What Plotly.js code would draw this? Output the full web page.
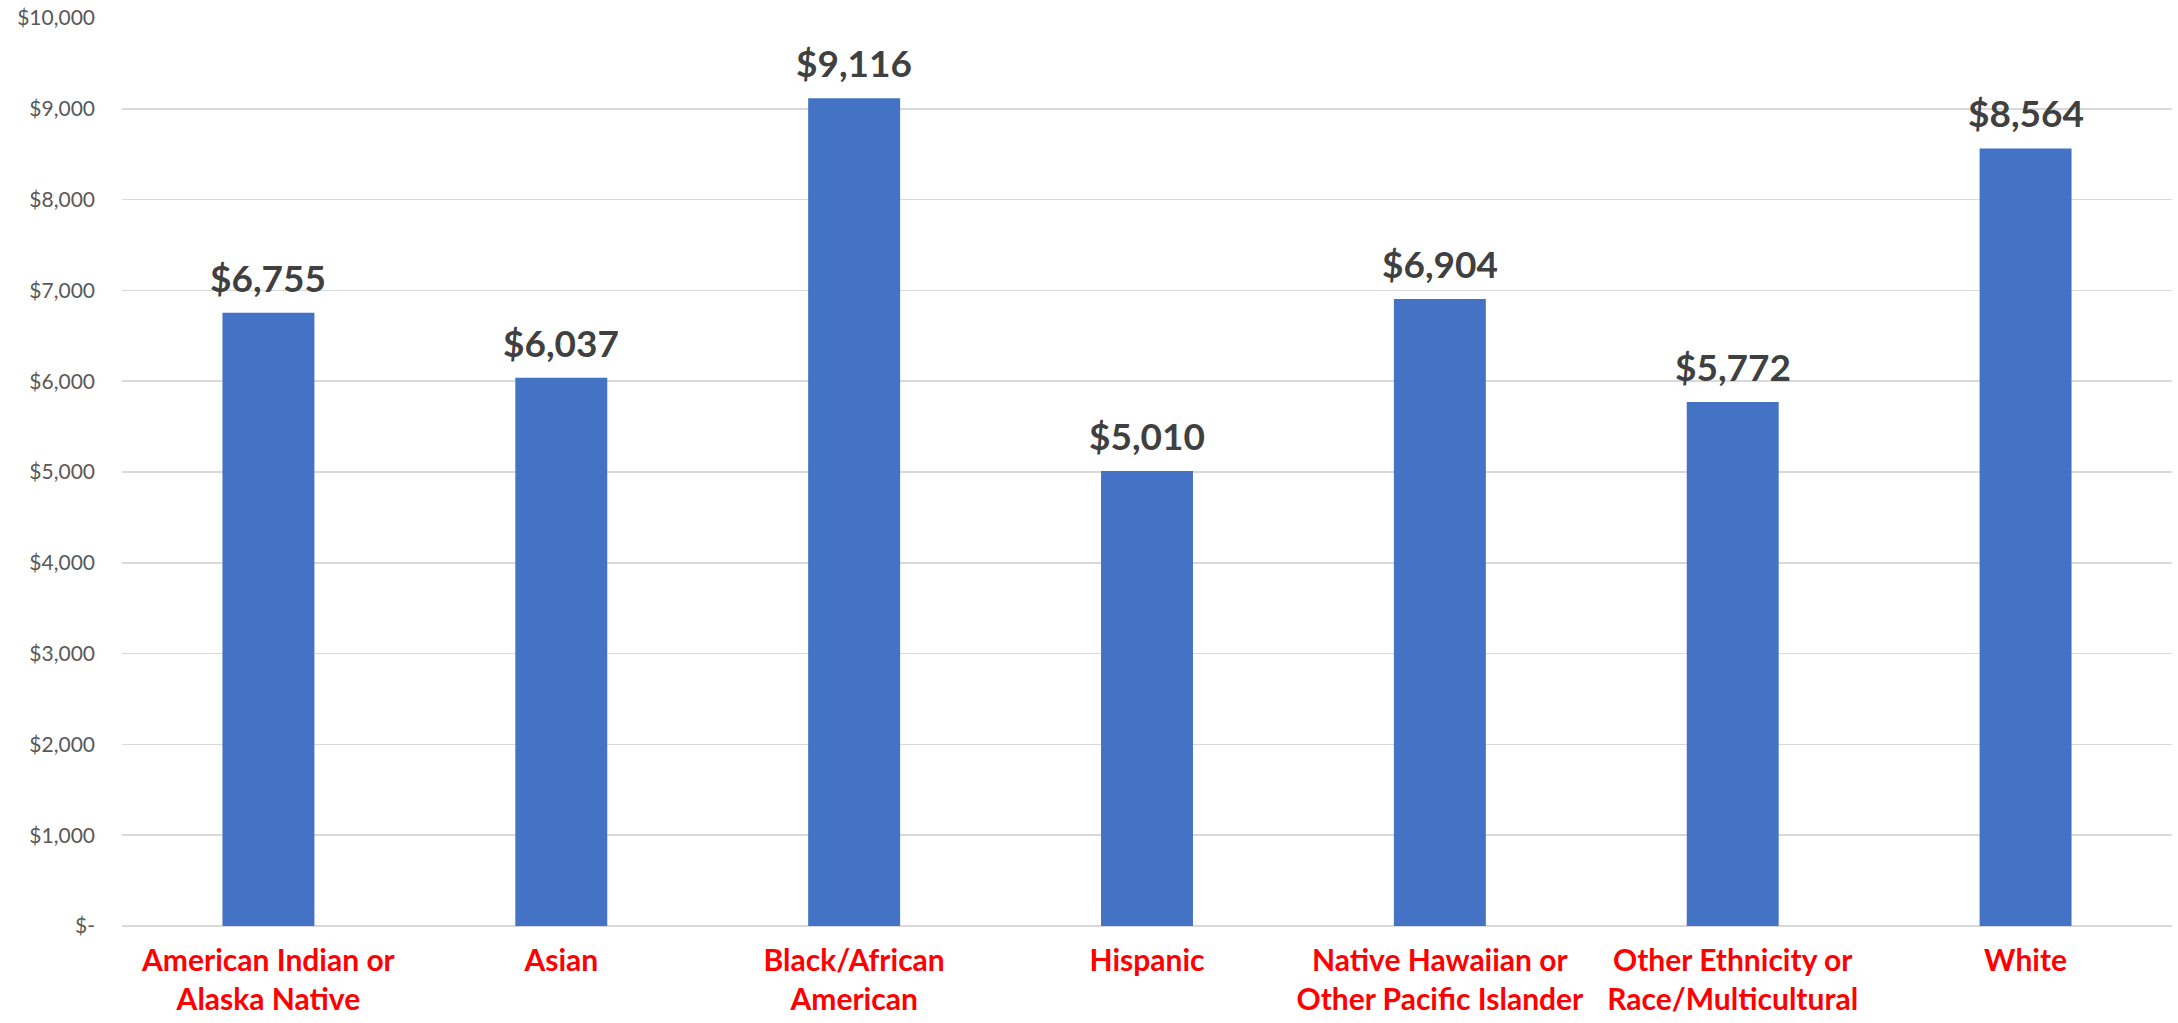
<!DOCTYPE html>
<html>
<head>
<meta charset="utf-8">
<script src="https://cdn.plot.ly/plotly-3.0.1.min.js"></script>
<style>
  html, body { margin: 0; padding: 0; background: #ffffff; }
  #chart { width: 2178px; height: 1023px; }
</style>
</head>
<body>
<div id="chart"></div>
<script>
// ---- data ----
const categories = [
  "American Indian or<br>Alaska Native",
  "Asian",
  "Black/African<br>American",
  "Hispanic",
  "Native Hawaiian or<br>Other Pacific Islander",
  "Other Ethnicity or<br>Race/Multicultural",
  "White"
];
const values = [6755, 6037, 9116, 5010, 6904, 5772, 8564];
const valueLabels = ["$6,755", "$6,037", "$9,116", "$5,010", "$6,904", "$5,772", "$8,564"];
const yTickVals = [0, 1000, 2000, 3000, 4000, 5000, 6000, 7000, 8000, 9000, 10000];
const yTickText = ["$-", "$1,000", "$2,000", "$3,000", "$4,000", "$5,000", "$6,000", "$7,000", "$8,000", "$9,000", "$10,000"];

const trace = {
  type: "bar",
  x: categories,
  y: values,
  marker: { color: "#4472C4" },
  hoverinfo: "skip"
};

const annotations = categories.map((c, i) => ({
  x: c,
  y: values[i],
  xref: "x",
  yref: "y",
  text: valueLabels[i],
  showarrow: false,
  yanchor: "bottom",
  xanchor: "center",
  yshift: 11,
  font: { family: "Lato, sans-serif", size: 37, color: "#404040", weight: 700 }
}));

const layout = {
  width: 2178,
  height: 1023,
  margin: { l: 122, r: 6, t: 18, b: 97 },
  paper_bgcolor: "#ffffff",
  plot_bgcolor: "#ffffff",
  showlegend: false,
  bargap: 0.686,
  font: { family: "Lato, sans-serif" },
  xaxis: {
    type: "category",
    showgrid: false,
    showline: false,
    ticks: "",
    tickfont: { family: "Lato, sans-serif", size: 30, color: "#FF0000", weight: 700 },
    ticklabelstandoff: 14
  },
  yaxis: {
    range: [0, 10000],
    tickvals: yTickVals,
    ticktext: yTickText,
    showgrid: true,
    gridcolor: "#D9D9D9",
    gridwidth: 1.5,
    zeroline: true,
    zerolinecolor: "#D9D9D9",
    zerolinewidth: 1.5,
    showline: false,
    ticks: "",
    tickfont: { family: "Lato, sans-serif", size: 21, color: "#595959" },
    ticklabelstandoff: 26
  },
  annotations: annotations
};

Plotly.newPlot("chart", [trace], layout, { staticPlot: true, displayModeBar: false });
</script>
</body>
</html>
